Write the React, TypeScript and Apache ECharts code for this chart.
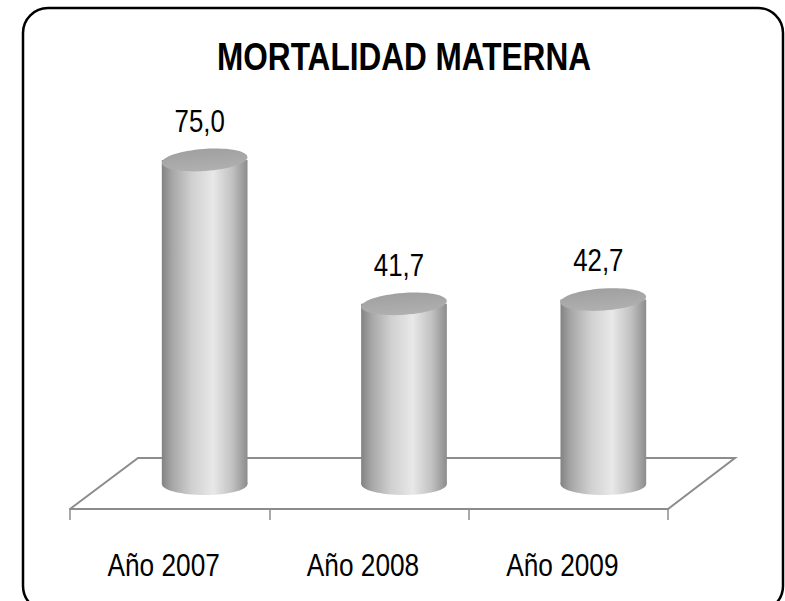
import React, { useEffect, useRef } from "react";
import * as echarts from "echarts";

const categories = ["Año 2007", "Año 2008", "Año 2009"];
const values = [75.0, 41.7, 42.7];
const valueLabels = ["75,0", "41,7", "42,7"];
const titleText = "MORTALIDAD MATERNA";

const FONT = "'Liberation Sans', Arial, sans-serif";
const NARROW_SCALE = 0.82;

export default function App() {
  const ref = useRef<HTMLDivElement>(null);
  useEffect(() => {
    if (!ref.current) return;
    const chart = echarts.init(ref.current, null, { renderer: "svg" });
    const depth = 35;
    const ry = 11;
    const bodyGrad = () =>
      new echarts.graphic.LinearGradient(0, 0, 1, 0, [
        { offset: 0, color: "#828282" },
        { offset: 0.12, color: "#a6a6a6" },
        { offset: 0.35, color: "#d0d0d0" },
        { offset: 0.6, color: "#e8e8e8" },
        { offset: 0.82, color: "#c2c2c2" },
        { offset: 1, color: "#8c8c8c" },
      ]);
    const option: any = {
      animation: false,
      backgroundColor: "#ffffff",
      graphic: [
        {
          type: "rect",
          shape: { x: 23, y: 8, width: 760, height: 603, r: 25 },
          style: { fill: "none", stroke: "#000", lineWidth: 2.5 },
          z: 100,
        },
        {
          type: "polyline",
          shape: { points: [[70, 509], [138, 458], [735, 458], [668, 509], [70, 509]] },
          style: { fill: "none", stroke: "#8c8c8c", lineWidth: 2 },
          z: 1,
        },
        {
          type: "text",
          x: 404,
          y: 56,
          scaleX: NARROW_SCALE,
          style: {
            text: titleText,
            fontFamily: FONT,
            fontSize: 38.5,
            fontWeight: "bold",
            fill: "#000",
            align: "center",
            verticalAlign: "middle",
          },
          z: 50,
        },
      ],
      grid: { left: 70, right: 117, bottom: 117, top: 52 },
      xAxis: {
        type: "category",
        data: categories,
        offset: 25,
        boundaryGap: true,
        axisLine: { show: true, onZero: false, lineStyle: { color: "#8c8c8c", width: 2 } },
        axisTick: { show: true, length: 11, lineStyle: { color: "#8c8c8c", width: 1.5 } },
        axisLabel: { show: false },
      },
      yAxis: {
        type: "value",
        min: 0,
        max: 100,
        show: false,
      },
      series: [
        {
          type: "custom",
          data: values.map((v, i) => [i, v]),
          z: 10,
          renderItem: (params: any, api: any) => {
            const idx = api.value(0);
            const val = api.value(1);
            const base = api.coord([idx, 0]);
            const top = api.coord([idx, val]);
            const w = api.size([1, 0])[0] * 0.43;
            const cx = base[0] + depth;
            const rx = w / 2;
            return {
              type: "group",
              children: [
                {
                  type: "ellipse",
                  shape: { cx, cy: base[1], rx, ry },
                  style: { fill: bodyGrad() },
                },
                {
                  type: "rect",
                  shape: { x: cx - rx, y: top[1], width: w, height: base[1] - top[1] },
                  style: { fill: bodyGrad() },
                },
                {
                  type: "ellipse",
                  x: cx,
                  y: top[1],
                  rotation: 0.07,
                  shape: { cx: 0, cy: 0, rx, ry },
                  style: {
                    fill: new echarts.graphic.LinearGradient(0, 0, 0, 1, [
                      { offset: 0, color: "#a0a0a0" },
                      { offset: 1, color: "#b0b0b0" },
                    ]),
                  },
                },
                {
                  type: "text",
                  x: cx - 5,
                  y: top[1] - ry - 28,
                  scaleX: NARROW_SCALE,
                  style: {
                    text: valueLabels[params.dataIndex],
                    fontFamily: FONT,
                    fontSize: 31.5,
                    fill: "#000",
                    align: "center",
                    verticalAlign: "middle",
                  },
                },
                {
                  type: "text",
                  x: base[0] - 6,
                  y: base[1] + 81,
                  scaleX: NARROW_SCALE,
                  style: {
                    text: categories[params.dataIndex],
                    fontFamily: FONT,
                    fontSize: 32,
                    fill: "#000",
                    align: "center",
                    verticalAlign: "middle",
                  },
                },
              ],
            };
          },
        },
      ],
    };
    chart.setOption(option);
    return () => chart.dispose();
  }, []);
  return (
    <div
      ref={ref}
      style={{ position: "absolute", left: 0, top: 0, width: 785, height: 601 }}
    />
  );
}
